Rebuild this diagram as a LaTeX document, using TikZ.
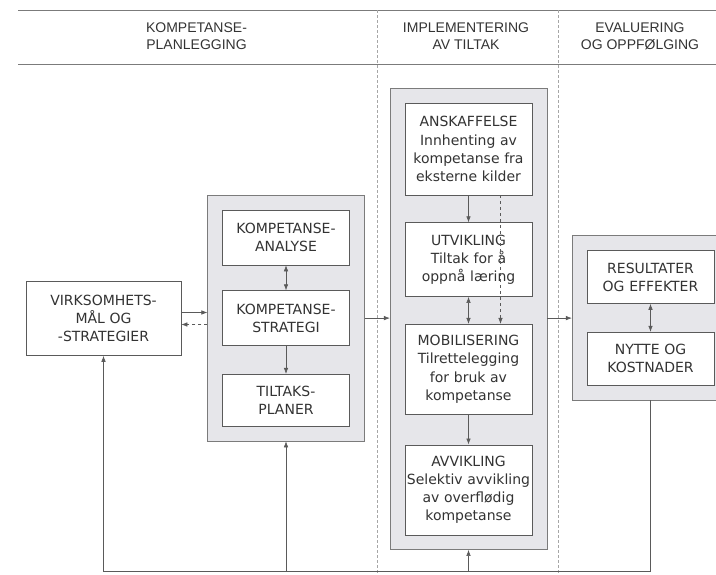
\documentclass[tikz,border=0pt]{standalone}
\usepackage{fontspec}
\setmainfont{DejaVu Sans}
\newfontfamily\headfont{Liberation Sans}
\usetikzlibrary{arrows.meta,positioning,fit,backgrounds}
\definecolor{linegray}{HTML}{5A5A5A}
\definecolor{boxgray}{HTML}{E6E6EA}
\definecolor{textgray}{HTML}{333333}

\begin{document}
\begin{tikzpicture}
[x=1pt, y=-1pt, >={Latex[length=6pt,width=4.5pt]},
every node/.style={text=textgray, font=\fontsize{14}{18.2}\selectfont},
box/.style={draw=linegray, fill=white, align=center, text width=125pt, inner xsep=1pt, inner ysep=10pt, line width=0.6pt},
group/.style={draw=linegray!80, fill=boxgray, inner sep=14.5pt, line width=0.6pt},
flow/.style={->, draw=linegray, line width=0.6pt},
both/.style={<->, draw=linegray, line width=0.6pt},
phase/.style={draw=gray!70, dash pattern=on 3pt off 2pt, line width=0.5pt},
header/.style={align=center, font=\headfont\fontsize{14}{17}\selectfont}
]
  \useasboundingbox (0,0) rectangle (716,574);
  \clip (0,0) rectangle (716,574);

  % header
  \draw[linegray!80, line width=0.6pt] (18,10) -- (716,10) (18,64) -- (716,64);
  \draw[phase] (377,10) -- (377,574) (558,10) -- (558,574);
  \node[header] (hplan) at (196.5,36.5) {KOMPETANSE-\\PLANLEGGING};
  \node[header] (himpl) at (466,36.5) {IMPLEMENTERING\\AV TILTAK};
  \node[header] (heval) at (640,36.5) {EVALUERING\\OG OPPFØLGING};

  % boxes
  \node[box, text width=153pt, minimum height=74pt] (virk) at (103.5,318.5) {VIRKSOMHETS-\\MÅL OG\\-STRATEGIER};

  \node[box, minimum height=55pt] (analyse) at (286,237.5) {KOMPETANSE-\\ANALYSE};
  \node[box, minimum height=55pt, below=25pt of analyse] (strategi) {KOMPETANSE-\\STRATEGI};
  \node[box, minimum height=52pt, below=28pt of strategi] (planer) {TILTAKS-\\PLANER};

  \node[box, minimum height=92pt] (ansk) at (468.5,149) {ANSKAFFELSE\\Innhenting av\\kompetanse fra\\eksterne kilder};
  \node[box, minimum height=74pt, below=27pt of ansk] (utv) {UTVIKLING\\Tiltak for å\\oppnå læring};
  \node[box, minimum height=90pt, below=27pt of utv] (mob) {MOBILISERING\\Tilrettelegging\\for bruk av\\kompetanse};
  \node[box, minimum height=90pt, below=30pt of mob] (avv) {AVVIKLING\\Selektiv avvikling\\av overflødig\\kompetanse};

  \node[box, minimum height=53pt] (res) at (650.5,277) {RESULTATER\\OG EFFEKTER};
  \node[box, minimum height=53pt, below=28pt of res] (nytte) {NYTTE OG\\KOSTNADER};

  \begin{scope}[on background layer]
    \node[group, fit=(analyse)(planer)] (plan) {};
    \node[group, fit=(ansk)(avv)] (impl) {};
    \node[group, fit=(res)(nytte)] (eval) {};
  \end{scope}

  % connectors
  \draw[flow] ([yshift=6pt]virk.east) -- ([yshift=6pt]virk.east -| plan.west);
  \draw[flow, dashed] ([yshift=-6pt]virk.east -| plan.west) -- ([yshift=-6pt]virk.east);
  \draw[both] (analyse) -- (strategi);
  \draw[flow] (strategi) -- (planer);
  \draw[flow] (strategi.east -| plan.east) -- (strategi.east -| impl.west);
  \draw[flow] (ansk) -- (utv);
  \draw[both] (utv) -- (mob);
  \draw[flow] (mob) -- (avv);
  \draw[flow, dashed] ([xshift=32pt]ansk.south) -- ([xshift=32pt]mob.north);
  \draw[flow] (strategi.east -| impl.east) -- (strategi.east -| eval.west);
  \draw[both] (res) -- (nytte);

  % feedback
  \coordinate (base) at (0,571);
  \draw[flow] (eval.south) |- (base -| virk.south) -- (virk.south);
  \draw[flow] (base -| plan.south) -- (plan.south);
  \draw[flow] (base -| impl.south) -- (impl.south);
\end{tikzpicture}
\end{document}
